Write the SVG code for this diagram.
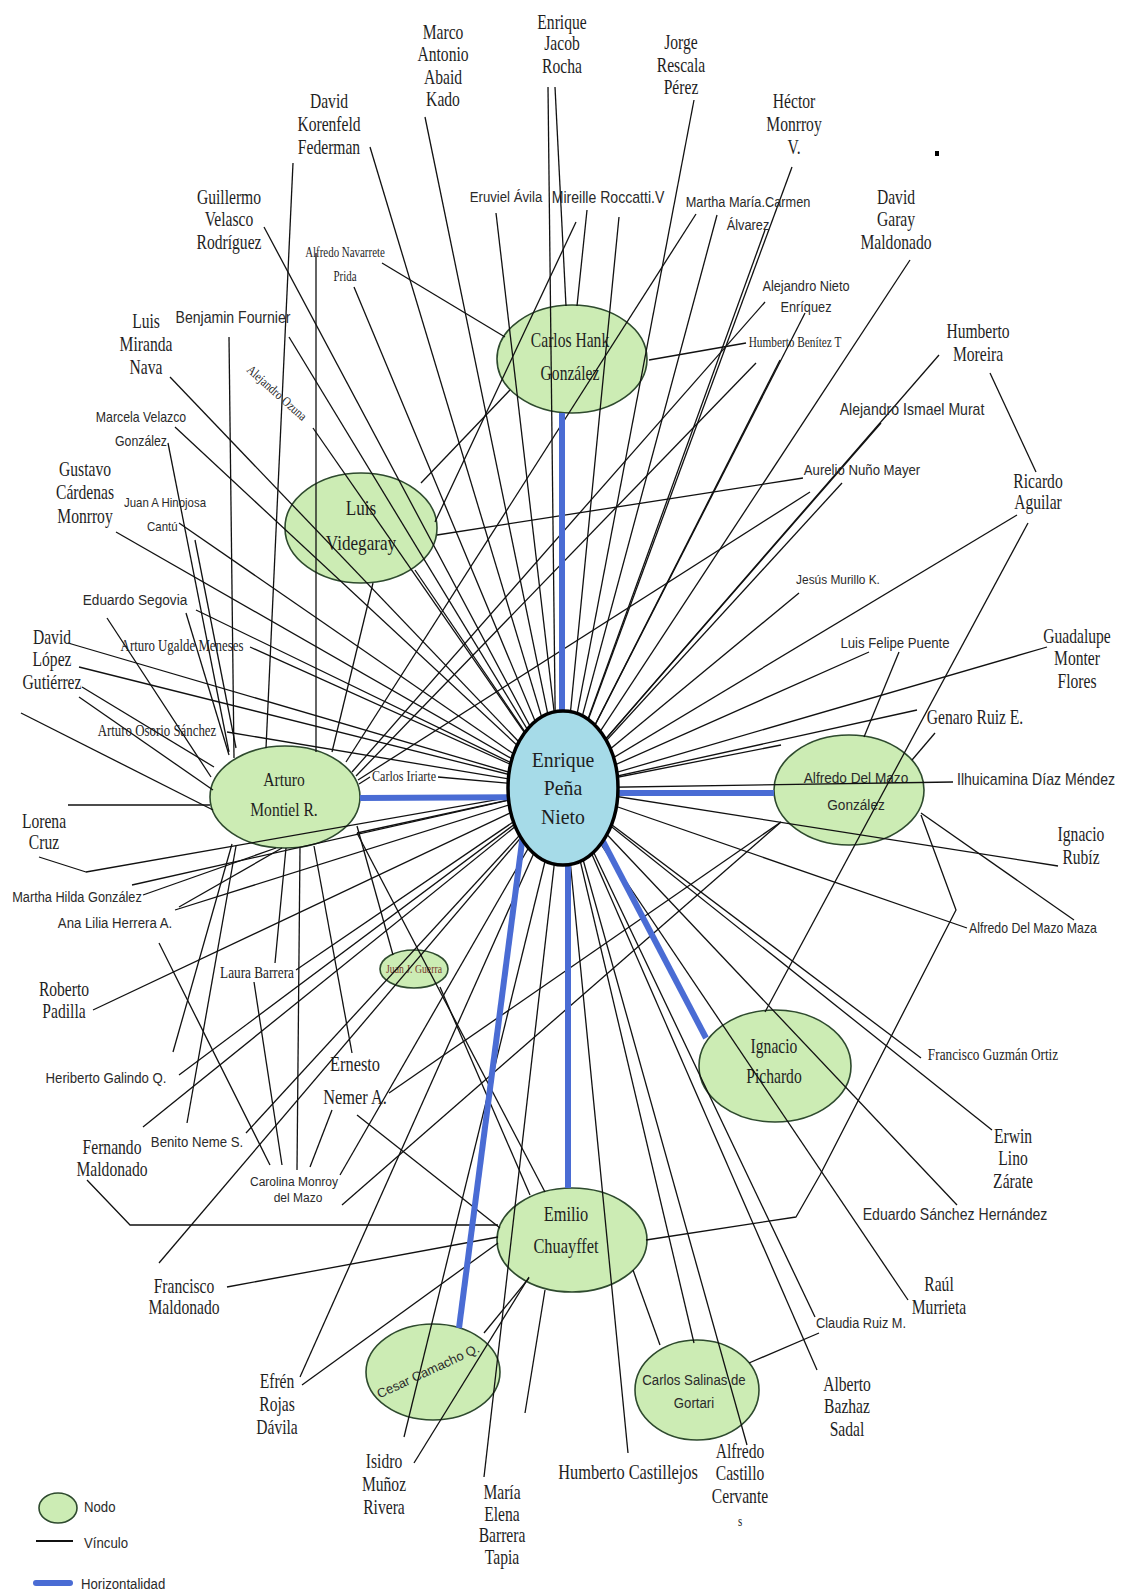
<svg xmlns="http://www.w3.org/2000/svg" width="1121" height="1595" viewBox="0 0 1121 1595">
<style>
.s{font-family:"Liberation Serif","Times New Roman",serif;fill:#1e1e1e;text-anchor:middle}
.a{font-family:"Liberation Sans",Arial,sans-serif;fill:#2a2a2a;text-anchor:middle}
.c path{fill:none;stroke:#111;stroke-width:1.3;stroke-linejoin:round}
.c path.h{stroke:#4a6cd4;stroke-width:6}
.n{fill:#ccecb4;stroke:#2e4a2e;stroke-width:1.6}
.e{fill:#a6dbe8;stroke:#000;stroke-width:3.5}
</style>
<rect width="1121" height="1595" fill="#fff"/>

<!-- secondary nodes (under connectors) -->
<g id="n-hank"><ellipse class="n" cx="572" cy="359" rx="75" ry="54"/><text class="s" font-size="20" transform="translate(570,347) scale(.78,1)"><tspan x="0">Carlos Hank</tspan><tspan x="0" dy="33">González</tspan></text></g>
<g id="n-videgaray"><ellipse class="n" cx="361" cy="528" rx="76" ry="55"/><text class="s" font-size="22" transform="translate(361,515) scale(.78,1)"><tspan x="0">Luis</tspan><tspan x="0" dy="35">Videgaray</tspan></text></g>
<g id="n-montiel"><ellipse class="n" cx="285" cy="797" rx="75" ry="51"/><text class="s" font-size="19" transform="translate(284,786) scale(.82,1)"><tspan x="0">Arturo</tspan><tspan x="0" dy="30">Montiel R.</tspan></text></g>
<g id="n-delmazo"><ellipse class="n" cx="849" cy="790" rx="75" ry="55"/><text class="a" font-size="15.5" transform="translate(856,783) scale(.88,1)"><tspan x="0">Alfredo Del Mazo</tspan><tspan x="0" dy="27">González</tspan></text></g>
<g id="n-pichardo"><ellipse class="n" cx="775" cy="1066" rx="76" ry="56"/><text class="s" font-size="20" transform="translate(774,1053) scale(.78,1)"><tspan x="0">Ignacio</tspan><tspan x="0" dy="30">Pichardo</tspan></text></g>
<g id="n-chuayffet"><ellipse class="n" cx="572" cy="1240" rx="75" ry="52"/><text class="s" font-size="21" transform="translate(566,1221) scale(.78,1)"><tspan x="0">Emilio</tspan><tspan x="0" dy="32">Chuayffet</tspan></text></g>
<g id="n-camacho"><ellipse class="n" cx="433" cy="1372" rx="67" ry="48"/><text class="a" font-size="13" transform="translate(430,1375) rotate(-25)">Cesar Camacho Q.</text></g>
<g id="n-salinas"><ellipse class="n" cx="697" cy="1390" rx="62" ry="50"/><text class="a" font-size="15" transform="translate(694,1385) scale(.88,1)"><tspan x="0">Carlos Salinas de</tspan><tspan x="0" dy="23">Gortari</tspan></text></g>
<g id="n-guerra"><ellipse class="n" cx="414" cy="969" rx="34" ry="19"/><text class="s" font-size="12.5" fill="#7a3a2c" style="fill:#7a3a2c" transform="translate(414,973) scale(.78,1)">Juan J. Guerra</text></g>

<!-- connectors -->
<g id="connectors" class="c">
<path d="M425 117L563 788"/>
<path d="M548 87L556 788"/>
<path d="M555 87L566 306"/>
<path d="M694 100L563 788"/>
<path d="M792 167L563 788"/>
<path d="M587 210L577 306"/>
<path d="M576 222L435 522"/>
<path d="M619 217L563 788"/>
<path d="M496 213L563 788"/>
<path d="M696 214L346 762"/>
<path d="M717 215L563 788"/>
<path d="M765 230L563 788"/>
<path d="M370 147L563 788"/>
<path d="M293 163L266 748"/>
<path d="M264 227L563 788"/>
<path d="M382 263L505 337"/>
<path d="M316 253L316 752"/>
<path d="M354 287L563 788"/>
<path d="M229 337L234 758"/>
<path d="M289 337L563 788"/>
<path d="M170 377L563 788"/>
<path d="M313 428L563 788"/>
<path d="M765 302L352 772"/>
<path d="M805 313L563 788"/>
<path d="M746 343L649 360"/>
<path d="M756 363L356 776"/>
<path d="M780 360L563 788"/>
<path d="M910 260L563 788"/>
<path d="M939 355L563 788"/>
<path d="M990 373L1036 472"/>
<path d="M881 423L563 788"/>
<path d="M803 478L437 535"/>
<path d="M842 483L563 788"/>
<path d="M810 492L358 780"/>
<path d="M1017 515L563 788"/>
<path d="M1028 523L765 1012"/>
<path d="M799 593L563 788"/>
<path d="M869 652L563 788"/>
<path d="M899 652L864 737"/>
<path d="M1047 647L563 788"/>
<path d="M917 710L563 788"/>
<path d="M935 733L912 760"/>
<path d="M563 788L781 745"/>
<path d="M953 782L563 788"/>
<path d="M1058 866L563 788"/>
<path d="M967 928L563 788"/>
<path d="M1074 920L921 813"/>
<path d="M921 815L956 910L820 1175L796 1217L646 1240"/>
<path d="M563 788L957 1205"/>
<path d="M563 788L908 1300"/>
<path d="M563 788L921 1058"/>
<path d="M563 788L992 1130"/>
<path d="M781 822L389 1093"/>
<path d="M563 788L628 1453"/>
<path d="M563 788L694 1343"/>
<path d="M633 1270L660 1345"/>
<path d="M563 788L747 1445"/>
<path d="M563 788L817 1370"/>
<path d="M563 788L815 1317"/>
<path d="M749 1363L819 1333"/>
<path d="M87 1180L130 1225L498 1225"/>
<path d="M143 1127L563 788"/>
<path d="M227 1287L498 1237"/>
<path d="M159 1263L563 788"/>
<path d="M270 1165L159 943"/>
<path d="M282 1165L254 982"/>
<path d="M297 1170L300 848"/>
<path d="M310 1167L332 1110"/>
<path d="M340 1175L563 788"/>
<path d="M342 1205L781 822"/>
<path d="M296 970L563 788"/>
<path d="M275 963L286 848"/>
<path d="M175 910L563 788"/>
<path d="M179 907L282 848"/>
<path d="M143 895L276 848"/>
<path d="M132 885L563 788"/>
<path d="M68 805L210 805"/>
<path d="M39 857L86 872L563 788"/>
<path d="M93 1010L563 788"/>
<path d="M179 1075L563 788"/>
<path d="M173 1052L232 844"/>
<path d="M187 1123L236 846"/>
<path d="M246 1133L563 788"/>
<path d="M352 1053L314 846"/>
<path d="M357 1115L500 1228"/>
<path d="M357 826L393 955"/>
<path d="M440 987L530 1195"/>
<path d="M357 833L545 1192"/>
<path d="M300 1377L563 788"/>
<path d="M302 1385L498 1243"/>
<path d="M404 1437L563 788"/>
<path d="M414 1463L529 1277"/>
<path d="M484 1477L563 788"/>
<path d="M525 1413L545 1290"/>
<path d="M484 1333L529 1278"/>
<path d="M175 427L563 788"/>
<path d="M168 443L229 752"/>
<path d="M116 532L563 788"/>
<path d="M179 523L563 788"/>
<path d="M195 540L236 748"/>
<path d="M196 610L563 788"/>
<path d="M186 613L229 755"/>
<path d="M107 618L211 777"/>
<path d="M68 643L563 788"/>
<path d="M79 667L563 788"/>
<path d="M82 687L214 767"/>
<path d="M79 697L213 790"/>
<path d="M21 713L213 810"/>
<path d="M250 647L563 788"/>
<path d="M227 732L563 788"/>
<path d="M370 777L359 784"/>
<path d="M438 777L563 788"/>
<path d="M373 583L332 752"/>
<path d="M421 483L510 390"/>
<path d="M357 833L563 788"/>
<path d="M415 570L563 788"/>
<path class="h" d="M562 413L562 788"/>
<path class="h" d="M360 798L563 797"/>
<path class="h" d="M563 793L774 793"/>
<path class="h" d="M568 788L568 1188"/>
<path class="h" d="M529 788L459 1328"/>
<path class="h" d="M575 788L706 1038"/>
</g>

<!-- central node -->
<g id="n-epn"><ellipse class="e" cx="563" cy="788" rx="55" ry="77"/><text class="s" font-size="22" transform="translate(563,767) scale(.9,1)"><tspan x="0">Enrique</tspan><tspan x="0" dy="28">Peña</tspan><tspan x="0" dy="29">Nieto</tspan></text></g>

<!-- person labels (serif) -->
<g id="p-abaid"><text class="s" font-size="20" transform="translate(443,39) scale(.78,1)"><tspan x="0">Marco</tspan><tspan x="0" dy="22.3">Antonio</tspan><tspan x="0" dy="22.3">Abaid</tspan><tspan x="0" dy="22.3">Kado</tspan></text></g>
<g id="p-jacob"><text class="s" font-size="20" transform="translate(562,29) scale(.78,1)"><tspan x="0">Enrique</tspan><tspan x="0" dy="21.5">Jacob</tspan><tspan x="0" dy="23">Rocha</tspan></text></g>
<g id="p-rescala"><text class="s" font-size="20" transform="translate(681,49) scale(.78,1)"><tspan x="0">Jorge</tspan><tspan x="0" dy="23">Rescala</tspan><tspan x="0" dy="22">Pérez</tspan></text></g>
<g id="p-monrroy"><text class="s" font-size="20" transform="translate(794,108) scale(.78,1)"><tspan x="0">Héctor</tspan><tspan x="0" dy="23">Monrroy</tspan><tspan x="0" dy="23">V.</tspan></text></g>
<g id="p-garay"><text class="s" font-size="20" transform="translate(896,204) scale(.78,1)"><tspan x="0">David</tspan><tspan x="0" dy="22.5">Garay</tspan><tspan x="0" dy="22.5">Maldonado</tspan></text></g>
<g id="p-moreira"><text class="s" font-size="20" transform="translate(978,338) scale(.78,1)"><tspan x="0">Humberto</tspan><tspan x="0" dy="23">Moreira</tspan></text></g>
<g id="p-korenfeld"><text class="s" font-size="20" transform="translate(329,108) scale(.78,1)"><tspan x="0">David</tspan><tspan x="0" dy="23">Korenfeld</tspan><tspan x="0" dy="23">Federman</tspan></text></g>
<g id="p-velasco"><text class="s" font-size="20" transform="translate(229,204) scale(.78,1)"><tspan x="0">Guillermo</tspan><tspan x="0" dy="22.5">Velasco</tspan><tspan x="0" dy="22.5">Rodríguez</tspan></text></g>
<g id="p-miranda"><text class="s" font-size="20" transform="translate(146,328) scale(.78,1)"><tspan x="0">Luis</tspan><tspan x="0" dy="23">Miranda</tspan><tspan x="0" dy="23">Nava</tspan></text></g>
<g id="p-cardenas"><text class="s" font-size="20" transform="translate(85,476) scale(.78,1)"><tspan x="0">Gustavo</tspan><tspan x="0" dy="23.5">Cárdenas</tspan><tspan x="0" dy="23.5">Monrroy</tspan></text></g>
<g id="p-lopez"><text class="s" font-size="20" transform="translate(52,644) scale(.78,1)"><tspan x="0">David</tspan><tspan x="0" dy="22.5">López</tspan><tspan x="0" dy="22.5">Gutiérrez</tspan></text></g>
<g id="p-lorena"><text class="s" font-size="20" transform="translate(44,828) scale(.78,1)"><tspan x="0">Lorena</tspan><tspan x="0" dy="21">Cruz</tspan></text></g>
<g id="p-padilla"><text class="s" font-size="20" transform="translate(64,996) scale(.78,1)"><tspan x="0">Roberto</tspan><tspan x="0" dy="22">Padilla</tspan></text></g>
<g id="p-fernando"><text class="s" font-size="20" transform="translate(112,1154) scale(.78,1)"><tspan x="0">Fernando</tspan><tspan x="0" dy="22">Maldonado</tspan></text></g>
<g id="p-francisco"><text class="s" font-size="20" transform="translate(184,1293) scale(.78,1)"><tspan x="0">Francisco</tspan><tspan x="0" dy="21.5">Maldonado</tspan></text></g>
<g id="p-rojas"><text class="s" font-size="20" transform="translate(277,1388) scale(.78,1)"><tspan x="0">Efrén</tspan><tspan x="0" dy="23">Rojas</tspan><tspan x="0" dy="23">Dávila</tspan></text></g>
<g id="p-munoz"><text class="s" font-size="20" transform="translate(384,1468) scale(.78,1)"><tspan x="0">Isidro</tspan><tspan x="0" dy="23">Muñoz</tspan><tspan x="0" dy="23">Rivera</tspan></text></g>
<g id="p-barrera"><text class="s" font-size="20" transform="translate(502,1499) scale(.78,1)"><tspan x="0">María</tspan><tspan x="0" dy="21.7">Elena</tspan><tspan x="0" dy="21.7">Barrera</tspan><tspan x="0" dy="21.7">Tapia</tspan></text></g>
<g id="p-castillejos"><text class="s" font-size="21" transform="translate(628,1479) scale(.78,1)">Humberto Castillejos</text></g>
<g id="p-castillo"><text class="s" font-size="20" transform="translate(740,1458) scale(.78,1)"><tspan x="0">Alfredo</tspan><tspan x="0" dy="22.5">Castillo</tspan><tspan x="0" dy="22.5">Cervante</tspan><tspan x="0" dy="23" font-size="14">s</tspan></text></g>
<g id="p-bazhaz"><text class="s" font-size="20" transform="translate(847,1391) scale(.78,1)"><tspan x="0">Alberto</tspan><tspan x="0" dy="22.5">Bazhaz</tspan><tspan x="0" dy="22.5">Sadal</tspan></text></g>
<g id="p-murrieta"><text class="s" font-size="20" transform="translate(939,1291) scale(.78,1)"><tspan x="0">Raúl</tspan><tspan x="0" dy="23">Murrieta</tspan></text></g>
<g id="p-zarate"><text class="s" font-size="20" transform="translate(1013,1143) scale(.78,1)"><tspan x="0">Erwin</tspan><tspan x="0" dy="22.5">Lino</tspan><tspan x="0" dy="22.5">Zárate</tspan></text></g>
<g id="p-rubiz"><text class="s" font-size="20" transform="translate(1081,841) scale(.78,1)"><tspan x="0">Ignacio</tspan><tspan x="0" dy="23">Rubíz</tspan></text></g>
<g id="p-monter"><text class="s" font-size="20" transform="translate(1077,643) scale(.78,1)"><tspan x="0">Guadalupe</tspan><tspan x="0" dy="22.5">Monter</tspan><tspan x="0" dy="22.5">Flores</tspan></text></g>
<g id="p-aguilar"><text class="s" font-size="20" transform="translate(1038,488) scale(.78,1)"><tspan x="0">Ricardo</tspan><tspan x="0" dy="21">Aguilar</tspan></text></g>
<g id="p-nemer"><text class="s" font-size="21" transform="translate(355,1071) scale(.78,1)"><tspan x="0">Ernesto</tspan><tspan x="0" dy="33">Nemer A.</tspan></text></g>
<g id="p-genaro"><text class="s" font-size="20" transform="translate(975,724) scale(.78,1)">Genaro Ruiz E.</text></g>
<g id="p-navarrete"><text class="s" font-size="14" transform="translate(345,257) scale(.78,1)"><tspan x="0">Alfredo Navarrete</tspan><tspan x="0" dy="24">Prida</tspan></text></g>
<g id="p-benitez"><text class="s" font-size="14.5" transform="translate(795,347) scale(.78,1)">Humberto Benítez T</text></g>
<g id="p-iriarte"><text class="s" font-size="15.5" transform="translate(404,781) scale(.78,1)">Carlos Iriarte</text></g>
<g id="p-ugalde"><text class="s" font-size="16.5" transform="translate(182,651) scale(.78,1)">Arturo Ugalde Meneses</text></g>
<g id="p-osorio"><text class="s" font-size="16.5" transform="translate(157,736) scale(.78,1)">Arturo Osorio Sánchez</text></g>
<g id="p-laura"><text class="s" font-size="17" transform="translate(257,978) scale(.78,1)">Laura Barrera</text></g>
<g id="p-guzman"><text class="s" font-size="17" transform="translate(993,1060) scale(.78,1)">Francisco Guzmán Ortiz</text></g>
<g id="p-ozuna"><text class="s" font-size="13" transform="translate(274,396) rotate(42) scale(.85,1)">Alejandro Ozuna</text></g>

<!-- person labels (sans) -->
<g id="p-avila"><text class="a" font-size="15" transform="translate(506,202) scale(.88,1)">Eruviel Ávila</text></g>
<g id="p-roccatti"><text class="a" font-size="16" transform="translate(608,203) scale(.88,1)">Mireille Roccatti.V</text></g>
<g id="p-carmen"><text class="a" font-size="14.5" transform="translate(748,207) scale(.88,1)"><tspan x="0">Martha María.Carmen</tspan><tspan x="0" dy="23">Álvarez</tspan></text></g>
<g id="p-fournier"><text class="a" font-size="16" transform="translate(233,323) scale(.88,1)">Benjamin Fournier</text></g>
<g id="p-velazco"><text class="a" font-size="14" transform="translate(141,422) scale(.88,1)"><tspan x="0">Marcela Velazco</tspan><tspan x="0" dy="24">González</tspan></text></g>
<g id="p-hinojosa"><text class="a" font-size="13" transform="translate(165,507) scale(.88,1)"><tspan x="0">Juan A Hinojosa</tspan><tspan x="-3" dy="24">Cantú</tspan></text></g>
<g id="p-segovia"><text class="a" font-size="15.5" transform="translate(135,605) scale(.88,1)">Eduardo Segovia</text></g>
<g id="p-hilda"><text class="a" font-size="14.5" transform="translate(77,902) scale(.88,1)">Martha Hilda González</text></g>
<g id="p-herrera"><text class="a" font-size="15" transform="translate(115,928) scale(.88,1)">Ana Lilia Herrera A.</text></g>
<g id="p-galindo"><text class="a" font-size="15" transform="translate(106,1083) scale(.88,1)">Heriberto Galindo Q.</text></g>
<g id="p-neme"><text class="a" font-size="15" transform="translate(197,1147) scale(.88,1)">Benito Neme S.</text></g>
<g id="p-monroy"><text class="a" font-size="12" transform="translate(294,1186)"><tspan x="0">Carolina Monroy</tspan><tspan x="4" dy="16">del Mazo</tspan></text></g>
<g id="p-ruiz"><text class="a" font-size="14.5" transform="translate(861,1328) scale(.88,1)">Claudia Ruiz M.</text></g>
<g id="p-sanchez"><text class="a" font-size="16" transform="translate(955,1220) scale(.88,1)">Eduardo Sánchez Hernández</text></g>
<g id="p-maza"><text class="a" font-size="14" transform="translate(1033,933) scale(.88,1)">Alfredo Del Mazo Maza</text></g>
<g id="p-diaz"><text class="a" font-size="16" transform="translate(1036,785) scale(.88,1)">Ilhuicamina Díaz Méndez</text></g>
<g id="p-puente"><text class="a" font-size="15" transform="translate(895,648) scale(.88,1)">Luis Felipe Puente</text></g>
<g id="p-murillo"><text class="a" font-size="13.5" transform="translate(838,584) scale(.88,1)">Jesús Murillo K.</text></g>
<g id="p-nuno"><text class="a" font-size="15" transform="translate(862,475) scale(.88,1)">Aurelio Nuño Mayer</text></g>
<g id="p-murat"><text class="a" font-size="16" transform="translate(912,415) scale(.88,1)">Alejandro Ismael Murat</text></g>
<g id="p-nieto"><text class="a" font-size="14.5" transform="translate(806,291) scale(.88,1)"><tspan x="0">Alejandro Nieto</tspan><tspan x="0" dy="21">Enríquez</tspan></text></g>

<rect x="935" y="151" width="4" height="5" fill="#000"/>

<!-- legend -->
<g id="legend">
<ellipse class="n" cx="58" cy="1508" rx="19" ry="15"/>
<text class="a" font-size="15" text-anchor="start" style="text-anchor:start" transform="translate(84,1512) scale(.88,1)">Nodo</text>
<path d="M36 1541H73" stroke="#111" stroke-width="2"/>
<text class="a" font-size="15" style="text-anchor:start" transform="translate(84,1548) scale(.88,1)">Vínculo</text>
<path d="M36 1583H70" stroke="#4a6cd4" stroke-width="6" stroke-linecap="round"/>
<text class="a" font-size="15" style="text-anchor:start" transform="translate(81,1589) scale(.88,1)">Horizontalidad</text>
</g>
</svg>
